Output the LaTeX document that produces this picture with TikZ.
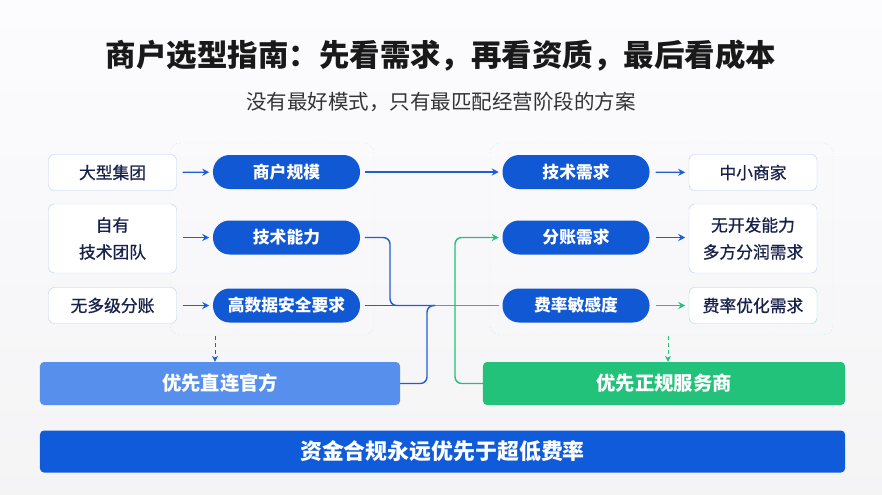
\documentclass[tikz,border=0pt]{standalone}
\usepackage{fontspec}
\setmainfont{Noto Sans CJK SC}
\newfontfamily\medfont[RawFeature={embolden=0.8}]{Noto Sans CJK SC}
\usetikzlibrary{arrows.meta}
\definecolor{pillblue}{HTML}{1158D4}
\definecolor{navy}{HTML}{17214A}
\definecolor{lineblue}{HTML}{1F5FD6}
\definecolor{linegreen}{HTML}{24C07C}
\definecolor{boxline}{HTML}{BCD2F2}
\definecolor{greenline}{HTML}{A6E2C4}
\definecolor{directblue}{HTML}{5690EC}
\definecolor{servicegreen}{HTML}{22C27B}
\definecolor{barblue}{HTML}{0F5BD9}
\begin{document}
\begin{tikzpicture}[x=0.03cm,y=-0.03cm,
  pill/.style={fill=pillblue,rounded corners=0.5cm,minimum width=4.41cm,minimum height=1.02cm,
    text=white,font=\fontsize{14.3}{17}\selectfont\bfseries},
  inbox/.style={draw=boxline,fill=white,rounded corners=0.18cm,minimum width=3.84cm,
    minimum height=1.08cm,text=navy,align=center,font=\fontsize{14.3}{23}\medfont},
  result/.style={rounded corners=0.12cm,minimum height=1.29cm,text=white,
    font=\fontsize{16.5}{20}\selectfont\bfseries},
  conn/.style={draw=lineblue,line width=1.2pt},
  gconn/.style={draw=linegreen,line width=1.2pt},
  tip/.style={-{Stealth[length=6pt,width=6pt]}}]
\shade[top color=white!60!blue!3,bottom color=blue!6!gray!8] (0,0) rectangle (882,494);
\node[font=\fontsize{26}{30}\selectfont\bfseries,text=black!90] (title) at (441,56)
  {商户选型指南：先看需求，再看资质，最后看成本};
\node[font=\fontsize{17.5}{21}\selectfont,text=black!80] (subtitle) at (441,102)
  {没有最好模式，只有最匹配经营阶段的方案};
\draw[draw=blue!25,dotted,rounded corners=0.3cm] (170,143) rectangle (374,335);
\draw[draw=linegreen!45,dotted,rounded corners=0.3cm] (490,143) rectangle (833,335);
\node[inbox] (group) at (112.5,172.5) {大型集团};
\node[inbox,minimum height=2.07cm] (team) at (112.5,238.5) {自有\\技术团队};
\node[inbox] (nosplit) at (112.5,305.5) {无多级分账};
\node[pill] (scale) at (286.5,172) {商户规模};
\node[pill] (ability) at (286.5,237.5) {技术能力};
\node[pill] (security) at (286.5,305.5) {高数据安全要求};
\node[pill] (tech) at (576,172) {技术需求};
\node[pill] (split) at (576,237.5) {分账需求};
\node[pill] (fee) at (576,305.5) {费率敏感度};
\node[inbox] (small) at (753,172.5) {中小商家};
\node[inbox,minimum height=2.07cm] (nodev) at (753,238.5) {无开发能力\\多方分润需求};
\node[inbox,draw=greenline] (feeopt) at (753,305.5) {费率优化需求};
\node[result,fill=directblue,minimum width=10.8cm] (direct) at (220,383.5) {优先直连官方};
\node[result,fill=servicegreen,minimum width=10.86cm] (service) at (664,383.5) {优先正规服务商};
\node[rounded corners=0.12cm,fill=barblue,minimum width=24.15cm,minimum height=1.26cm,
  text=white,font=\fontsize{18.7}{22}\selectfont\bfseries] (bar) at (442.5,451.5) {资金合规永远优先于超低费率};
\draw[conn,tip,shorten <=5pt,shorten >=3pt] (group) -- (scale);
\draw[conn,tip,shorten <=5pt,shorten >=3pt] (team.east |- ability) -- (ability);
\draw[conn,tip,shorten <=5pt,shorten >=3pt] (nosplit) -- (security);
\draw[conn,tip,shorten <=5pt,shorten >=3pt] (tech) -- (small);
\draw[conn,tip,shorten <=5pt,shorten >=3pt] (split) -- (nodev.west |- split);
\draw[gconn,tip,shorten <=5pt,shorten >=3pt] (fee) -- (feeopt);
\draw[conn,tip,shorten <=4pt,shorten >=3pt] (scale) -- (tech);
\coordinate (join) at (435,305.5);
\draw[conn,rounded corners=0.2cm,shorten <=4pt] (ability.east) -| (390,305.5) -- (join);
\draw[conn,shorten <=4pt] (security.east) -- (join);
\draw[gconn,shorten >=3pt] (join) -- (fee.west);
\draw[conn,rounded corners=0.2cm] (direct.east) -| (427,305.5) -- (join);
\draw[gconn,tip,rounded corners=0.2cm,shorten >=3pt] (service.west) -| (455,237.5) -- (split.west);
\coordinate (lfoot) at (215,336);
\coordinate (rfoot) at (668,336);
\draw[conn,line width=0.8pt,dashed,-{Stealth[length=5pt,width=5pt]}] (lfoot) -- (lfoot |- direct.north);
\draw[gconn,line width=0.8pt,dashed,-{Stealth[length=5pt,width=5pt]}] (rfoot) -- (rfoot |- service.north);
\end{tikzpicture}
\end{document}
